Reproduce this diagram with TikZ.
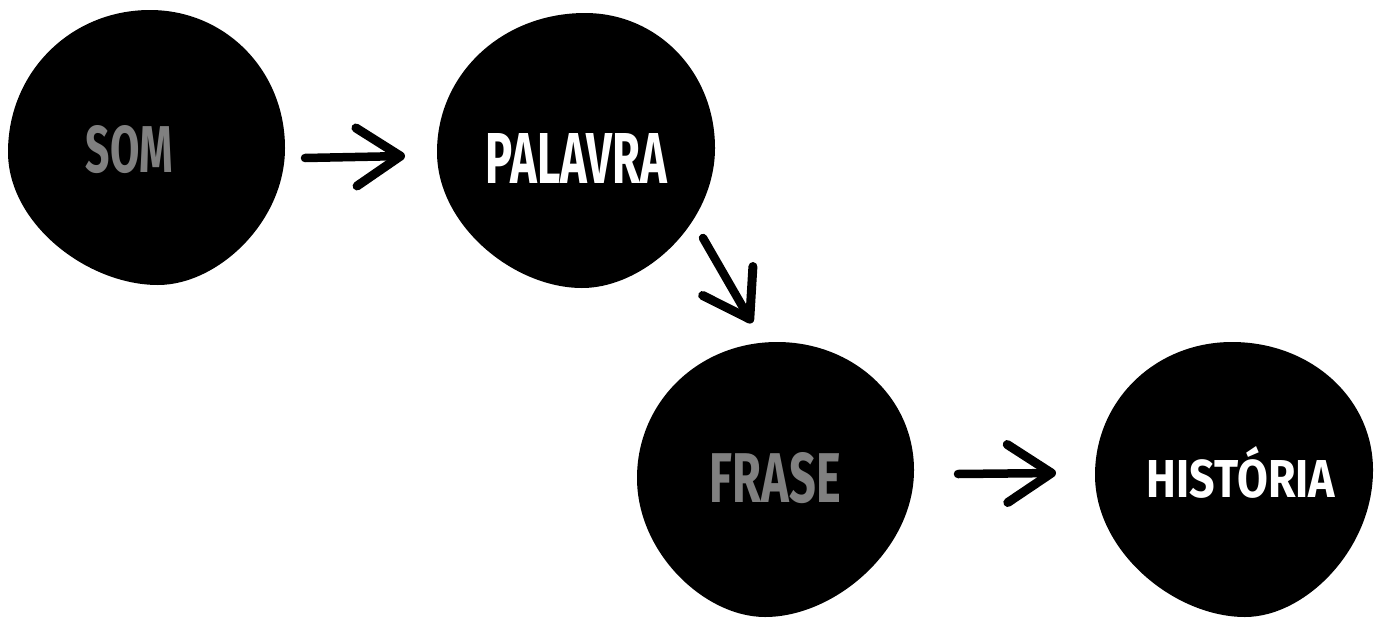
\documentclass[tikz,border=0pt]{standalone}
\usepackage{fontspec}
\setmainfont{Fira Sans}
\usepackage{graphicx}
\usetikzlibrary{arrows.meta}
\definecolor{labelgray}{HTML}{808080}
\tikzset{
  blob/.style={fill=black, draw=none},
  lbl/.style={inner sep=0pt, outer sep=0pt, font=\bfseries},
  handarrow/.style={line width=8.5pt, line cap=round, line join=round,
    -{Straight Barb[length=44pt, width=58pt, line width=9pt, round]}},
}
\newcommand\fitlabel[3]{\resizebox{#1}{#2}{#3}}
% blob through its top, right, bottom and left extreme points
\newcommand\blobshape[8]{%
  \fill[blob] (#1,#2)
    .. controls ({#1+0.56*(#3-#1)},#2) and (#3,{#4-0.56*(#4-#2)}) .. (#3,#4)
    .. controls (#3,{#4+0.54*(#6-#4)}) and ({#5+0.47*(#3-#5)},#6) .. (#5,#6)
    .. controls ({#5-0.47*(#5-#7)},#6) and (#7,{#8+0.54*(#6-#8)}) .. (#7,#8)
    .. controls (#7,{#8-0.56*(#8-#2)}) and ({#1-0.56*(#1-#7)},#2) .. cycle;}
\begin{document}
\begin{tikzpicture}[x=1pt,y=-1pt]
\useasboundingbox (0,0) rectangle (1380,621);
% blobs
\blobshape{150}{10}{285}{148}{158}{285}{8}{152}
\blobshape{585}{13}{715}{148}{582}{288}{437}{152}
\blobshape{777}{342}{914}{470}{765}{617}{637}{478}
\blobshape{1232}{342}{1373}{470}{1245}{617}{1095}{475}
% labels
\node[lbl, text=labelgray] (som) at (129.5,149.5) {\fitlabel{87pt}{47pt}{SOM}};
\node[lbl, text=white] (palavra) at (576.5,158) {\fitlabel{181pt}{50pt}{PALAVRA}};
\node[lbl, text=labelgray] (frase) at (775.5,478) {\fitlabel{131pt}{50pt}{FRASE}};
\node[lbl, text=white] (historia) at (1241,472) {\fitlabel{188pt}{51pt}{HISTÓRIA}};
% arrow ends
\coordinate (a1s) at (305,158);
\coordinate (a1e) at (405,156);
\coordinate (a2s) at (703,238);
\coordinate (a2e) at (752,323);
\coordinate (a3s) at (958,474);
\coordinate (a3e) at (1056,473);
\draw[handarrow] (a1s) -- (a1e);
\draw[handarrow] (a2s) -- (a2e);
\draw[handarrow] (a3s) -- (a3e);
\end{tikzpicture}
\end{document}
